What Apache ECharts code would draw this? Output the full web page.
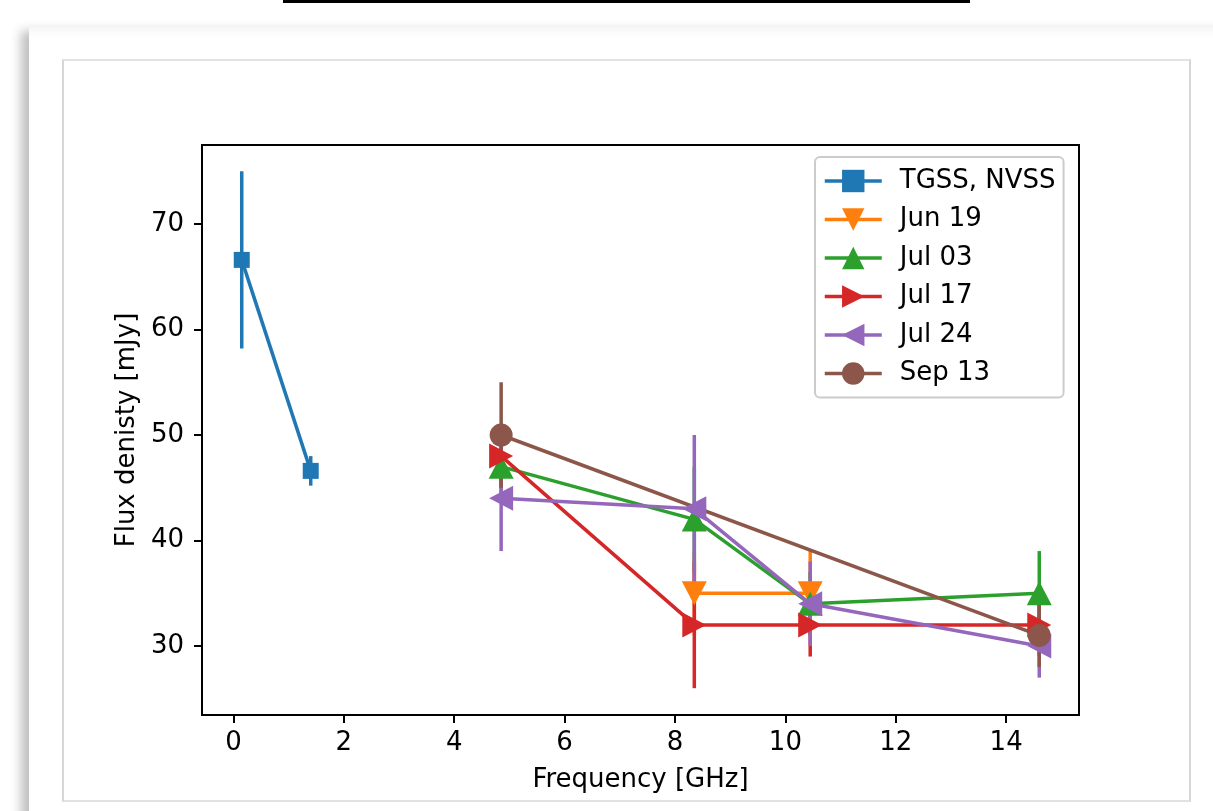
<!DOCTYPE html>
<html>
<head>
<meta charset="utf-8">
<script src="https://cdn.jsdelivr.net/npm/echarts@6/dist/echarts.min.js"></script>
<style>
  html, body { margin:0; padding:0; width:1213px; height:811px; overflow:hidden; background:#fff; }
  .bar { position:absolute; left:283px; top:0; width:687px; height:3px; background:#000; }
  .card { position:absolute; left:29px; top:25px; width:1210px; height:820px;
          background:linear-gradient(to bottom,#f4f4f4 0px,#fbfbfb 8px,#fff 14px);
          box-shadow:-8px 6px 10px rgba(0,0,0,0.25); }
  .frame { position:absolute; left:62px; top:59px; width:1125px; height:739px;
           border:2px solid #e2e2e2; border-left-color:#d6d6d6; border-right-color:#d6d6d6; background:#fff; }
  #chart { position:absolute; left:0; top:0; width:1213px; height:811px; }
</style>
</head>
<body>
<div class="bar"></div>
<div class="card"></div>
<div class="frame"></div>
<div id="chart"></div>
<script>
// ---- data ----
const xTicks = [0, 2, 4, 6, 8, 10, 12, 14];
const yTicks = [30, 40, 50, 60, 70];

const tgssFreq = [0.15, 1.4];
const tgssFlux = [66.6, 46.6];
const tgssErr  = [8.4, 1.4];

const jun19Freq = [8.35, 10.45];
const jun19Flux = [35, 35];
const jun19Err  = [4, 4];

const jul03Freq = [4.85, 8.35, 10.45, 14.6];
const jul03Flux = [47, 42, 34, 35];
const jul03Err  = [3, 5, 3, 4];

const jul17Freq = [4.85, 8.35, 10.45, 14.6];
const jul17Flux = [48, 32, 32, 32];
const jul17Err  = [3, 6, 3, 3];

const jul24Freq = [4.85, 8.35, 10.45, 14.6];
const jul24Flux = [44, 43, 34, 30];
const jul24Err  = [5, 7, 4, 3];

const sep13Freq = [4.85, 14.6];
const sep13Flux = [50, 31];
const sep13Err  = [5, 3];

const names = ['TGSS, NVSS', 'Jun 19', 'Jul 03', 'Jul 17', 'Jul 24', 'Sep 13'];
const colors = ['#1f77b4', '#ff7f0e', '#2ca02c', '#d62728', '#9467bd', '#8c564b'];

// ---- build ----
const sets = [
  { f: tgssFreq, v: tgssFlux, e: tgssErr, symbol: 'rect', size: 16, rot: 0 },
  { f: jun19Freq, v: jun19Flux, e: jun19Err, symbol: 'triangle', size: [25, 24], rot: 180 },
  { f: jul03Freq, v: jul03Flux, e: jul03Err, symbol: 'triangle', size: [25, 24], rot: 0 },
  { f: jul17Freq, v: jul17Flux, e: jul17Err, symbol: 'triangle', size: [25, 24], rot: -90 },
  { f: jul24Freq, v: jul24Flux, e: jul24Err, symbol: 'triangle', size: [25, 24], rot: 90 },
  { f: sep13Freq, v: sep13Flux, e: sep13Err, symbol: 'circle', size: 23, rot: 0 }
];

const LW = 3.5;
const series = [];
sets.forEach((s, i) => {
  const col = colors[i];
  series.push({
    name: names[i] + ' err',
    type: 'custom',
    data: s.f.map((x, k) => [x, s.v[k], s.e[k]]),
    renderItem: function (params, api) {
      const x = api.value(0), y = api.value(1), e = api.value(2);
      const p1 = api.coord([x, y - e]);
      const p2 = api.coord([x, y + e]);
      return { type: 'line', shape: { x1: p1[0], y1: p1[1], x2: p2[0], y2: p2[1] },
               style: { stroke: col, lineWidth: LW } };
    },
    silent: true
  });
  series.push({
    name: names[i],
    type: 'line',
    data: s.f.map((x, k) => [x, s.v[k]]),
    symbol: s.symbol,
    symbolSize: s.size,
    symbolRotate: s.rot,
    showAllSymbol: true,
    color: col,
    lineStyle: { color: col, width: LW },
    itemStyle: { color: col, opacity: 1 }
  });
});

const font = 'DejaVu Sans';
const FS = 26;
const chart = echarts.init(document.getElementById('chart'), null, { renderer: 'canvas' });
chart.setOption({
  animation: false,
  backgroundColor: 'transparent',
  grid: { left: 202, top: 145, width: 877, height: 570, show: true,
          borderColor: '#000', borderWidth: 2, backgroundColor: 'transparent' },
  xAxis: {
    type: 'value', min: -0.57, max: 15.32,
    name: 'Frequency [GHz]', nameLocation: 'middle', nameGap: 52,
    nameTextStyle: { fontFamily: font, fontSize: FS, color: '#000' },
    axisLine: { show: true, onZero: false, lineStyle: { color: '#000', width: 2 } },
    axisTick: { show: true, length: 8, lineStyle: { color: '#000', width: 2 }, customValues: xTicks },
    axisLabel: { fontFamily: font, fontSize: FS, color: '#000', margin: 15, customValues: xTicks },
    splitLine: { show: false }
  },
  yAxis: {
    type: 'value', min: 23.46, max: 77.49,
    name: 'Flux denisty [mJy]', nameLocation: 'middle', nameGap: 62, nameRotate: 90,
    nameTextStyle: { fontFamily: font, fontSize: FS, color: '#000' },
    axisLine: { show: true, onZero: false, lineStyle: { color: '#000', width: 2 } },
    axisTick: { show: true, length: 8, lineStyle: { color: '#000', width: 2 }, customValues: yTicks },
    axisLabel: { fontFamily: font, fontSize: FS, color: '#000', margin: 18, customValues: yTicks },
    splitLine: { show: false }
  },
  legend: {
    data: names,
    orient: 'vertical',
    left: 815, top: 157,
    padding: [10, 8, 10, 8],
    itemWidth: 57, itemHeight: 28, itemGap: 10.5,
    backgroundColor: '#fff',
    borderColor: '#cccccc', borderWidth: 2, borderRadius: 5,
    lineStyle: { width: LW },
    textStyle: { fontFamily: font, fontSize: FS, color: '#000', lineHeight: 28, padding: [0, 0, 0, 13] },
    selectedMode: false
  },
  series: series
});
</script>
</body>
</html>
